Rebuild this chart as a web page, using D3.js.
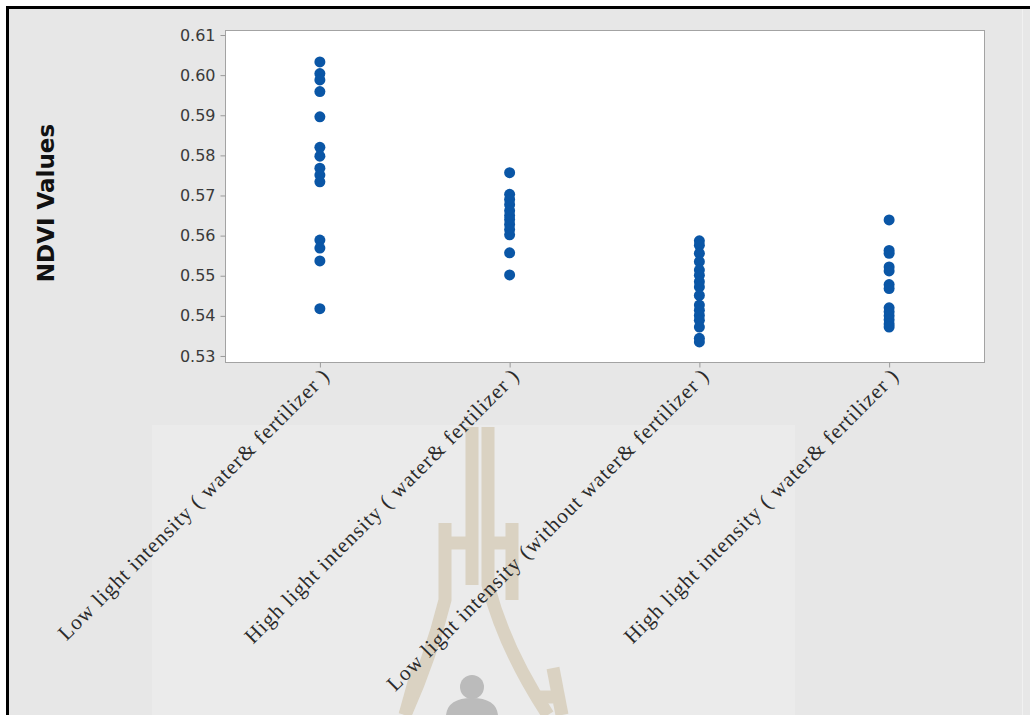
<!DOCTYPE html>
<html>
<head>
<meta charset="utf-8">
<script src="https://cdn.jsdelivr.net/npm/d3@7"></script>
<style>
  body { margin: 0; background: #ffffff; }
  svg { display: block; }
</style>
</head>
<body>
<svg id="chart" width="1030" height="715"></svg>
<script>
// Treatment groups (x axis)
const categories = [
  "Low light intensity ( water& fertilizer )",
  "High light intensity ( water& fertilizer )",
  "Low light intensity (without water& fertilizer )",
  "High light intensity ( water& fertilizer ) "
];

// NDVI readings per treatment
const lowLightWaterFert = [0.6033, 0.6004, 0.5988, 0.5959, 0.5896, 0.5820, 0.5798, 0.5768,
  0.5751, 0.5734, 0.5589, 0.5569, 0.5537, 0.5418];
const highLightWaterFert = [0.5757, 0.5703, 0.5690, 0.5677, 0.5662, 0.5650, 0.5640, 0.5628,
  0.5615, 0.5602, 0.5557, 0.5502];
const lowLightNoWaterFert = [0.5587, 0.5576, 0.5556, 0.5535, 0.5514, 0.5501, 0.5485, 0.5472,
  0.5451, 0.5427, 0.5414, 0.5401, 0.5389, 0.5372, 0.5344, 0.5335];
const highLightWaterFert2 = [0.5639, 0.5563, 0.5556, 0.5522, 0.5512, 0.5478, 0.5468, 0.5420,
  0.5410, 0.5400, 0.5390, 0.5380, 0.5372];

const seriesValues = [lowLightWaterFert, highLightWaterFert, lowLightNoWaterFert, highLightWaterFert2];

// Y axis tick labels
const yTicks = [0.53, 0.54, 0.55, 0.56, 0.57, 0.58, 0.59, 0.60, 0.61];
const yTitle = "NDVI Values";

const svg = d3.select("#chart");
const W = 1030, H = 715;
const plot = { left: 225, right: 984, top: 30, bottom: 362 };

// page background
svg.append("rect").attr("width", W).attr("height", H).attr("fill", "#ffffff");
svg.append("rect").attr("x", 8).attr("y", 8).attr("width", W - 8).attr("height", H - 8)
  .attr("fill", "#e7e7e7");

// faint emblem behind the lower half of the page
const mark = svg.append("g");
mark.append("rect").attr("x", 152).attr("y", 425).attr("width", 643).attr("height", 290)
  .attr("fill", "#ebebeb");
const tan = "#dad2c2";
const markPaths = [
  "M472,427 L472,585",
  "M488,427 L488,585 Q505,650 548,715",
  "M445,523 L445,600 Q430,660 405,715",
  "M512,523 L512,600",
  "M445,543 L472,543",
  "M488,543 L512,543",
  "M418,668 L405,715",
  "M553,668 L562,715",
  "M553,697 L535,697"
];
mark.selectAll("path.tan").data(markPaths).join("path")
  .attr("class", "tan")
  .attr("d", d => d)
  .attr("fill", "none")
  .attr("stroke", tan)
  .attr("stroke-width", 13);
mark.append("circle").attr("cx", 472).attr("cy", 687).attr("r", 12).attr("fill", "#bbbbbb");
mark.append("path")
  .attr("d", "M446,715 Q448,698 472,698 Q496,698 498,715 Z")
  .attr("fill", "#bbbbbb");

// frame lines
svg.append("line").attr("x1", 7.5).attr("x2", 7.5).attr("y1", 6).attr("y2", H)
  .attr("stroke", "#000").attr("stroke-width", 3);
svg.append("line").attr("x1", 6).attr("x2", W).attr("y1", 7.5).attr("y2", 7.5)
  .attr("stroke", "#000").attr("stroke-width", 3);
svg.append("line").attr("x1", 1022.5).attr("x2", 1022.5).attr("y1", 9).attr("y2", H)
  .attr("stroke", "#f1f1f1").attr("stroke-width", 1);

// scales
const x = d3.scalePoint().domain(categories).range([plot.left, plot.right]).padding(0.5);
const y = d3.scaleLinear().domain([0.5285, 0.61125]).range([plot.bottom, plot.top]);

// plot area
svg.append("rect")
  .attr("x", plot.left + 0.5).attr("y", plot.top + 0.5)
  .attr("width", plot.right - plot.left).attr("height", plot.bottom - plot.top)
  .attr("fill", "#ffffff").attr("stroke", "#a3a3a3").attr("stroke-width", 1);

// y axis
const yAxis = svg.append("g")
  .attr("transform", `translate(${plot.left + 0.5},0)`)
  .call(d3.axisLeft(y).tickValues(yTicks).tickFormat(d3.format(".2f")).tickSize(5).tickPadding(5));
yAxis.select(".domain").remove();
yAxis.selectAll(".tick line").attr("stroke", "#9a9a9a");
yAxis.selectAll(".tick text")
  .attr("fill", "#3a3a3a")
  .style("font-family", "'DejaVu Sans', sans-serif")
  .style("font-size", "16px");

// x axis
const xAxis = svg.append("g")
  .attr("transform", `translate(0,${plot.bottom + 0.5})`)
  .call(d3.axisBottom(x).tickSize(5).tickFormat(""));
xAxis.select(".domain").remove();
xAxis.selectAll(".tick line").attr("stroke", "#9a9a9a");

svg.append("g").selectAll("text").data(categories).join("text")
  .attr("transform", d => `translate(${x(d) + 11},${plot.bottom + 15}) rotate(-45)`)
  .attr("text-anchor", "end")
  .attr("fill", "#2b2b2b")
  .style("font-family", "'Liberation Serif', 'Times New Roman', serif")
  .style("font-size", "21.2px")
  .style("letter-spacing", "1px")
  .text(d => d.trim());

// y title
svg.append("text")
  .attr("transform", `translate(54,${(122 + 284) / 2}) rotate(-90)`)
  .attr("text-anchor", "middle")
  .attr("fill", "#111")
  .style("font-family", "'DejaVu Sans', sans-serif")
  .style("font-weight", "bold")
  .style("font-size", "23px")
  .text(yTitle);

// points
const pts = [];
categories.forEach((c, i) => seriesValues[i].forEach(v => pts.push({ c, v })));
svg.append("g").selectAll("circle").data(pts).join("circle")
  .attr("cx", d => x(d.c))
  .attr("cy", d => y(d.v))
  .attr("r", 5.5)
  .attr("fill", "#0a56a6");
</script>
</body>
</html>
